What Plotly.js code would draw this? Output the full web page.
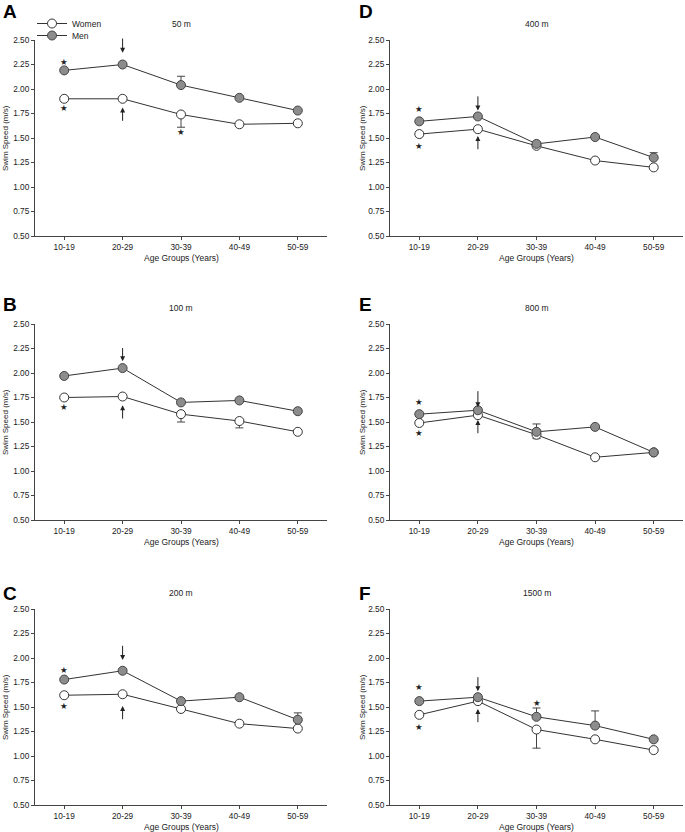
<!DOCTYPE html>
<html>
<head>
<meta charset="utf-8">
<script src="https://cdn.plot.ly/plotly-3.0.1.min.js"></script>
<style>
  html, body { margin: 0; padding: 0; background: #fff; }
  #chart { width: 685px; height: 832px; }
</style>
</head>
<body>
<div id="chart"></div>
<script>
// age groups on the x axis of every panel
var ageGroups = ['10-19', '20-29', '30-39', '40-49', '50-59'];
var events = ['50 m', '100 m', '200 m', '400 m', '800 m', '1500 m'];
var panelLetters = ['A', 'B', 'C', 'D', 'E', 'F'];

// mean swim speed (m/s)
var women50 = [1.90, 1.90, 1.74, 1.64, 1.65];
var men50 = [2.19, 2.25, 2.04, 1.91, 1.78];
var women100 = [1.75, 1.76, 1.58, 1.51, 1.40];
var men100 = [1.97, 2.05, 1.70, 1.72, 1.61];
var women200 = [1.62, 1.63, 1.48, 1.33, 1.28];
var men200 = [1.78, 1.87, 1.56, 1.60, 1.37];
var women400 = [1.54, 1.59, 1.42, 1.27, 1.20];
var men400 = [1.67, 1.72, 1.44, 1.51, 1.30];
var women800 = [1.49, 1.57, 1.37, 1.14, 1.19];
var men800 = [1.58, 1.62, 1.40, 1.45, 1.19];
var women1500 = [1.42, 1.56, 1.27, 1.17, 1.06];
var men1500 = [1.56, 1.60, 1.40, 1.31, 1.17];

// one-sided error bars (women down, men up); null = none drawn
var women50Err = [null, null, 0.13, null, null];
var men50Err = [null, null, 0.09, null, null];
var women100Err = [null, null, 0.08, 0.07, null];
var men100Err = [null, null, null, null, null];
var women200Err = [null, null, null, null, null];
var men200Err = [null, null, null, null, 0.07];
var women400Err = [null, null, null, null, null];
var men400Err = [null, null, null, null, 0.05];
var women800Err = [null, null, 0.04, null, null];
var men800Err = [null, null, 0.08, null, null];
var women1500Err = [null, null, 0.19, null, null];
var men1500Err = [null, null, 0.09, 0.15, null];

// significance stars: panel index, age group index, y position
var starPanel = [0, 0, 0, 1, 2, 2, 3, 3, 4, 4, 5, 5, 5];
var starGroup = [0, 0, 2, 0, 0, 0, 0, 0, 0, 0, 0, 0, 2];
var starY = [2.28, 1.81, 1.56, 1.65, 1.88, 1.51, 1.80, 1.42, 1.70, 1.39, 1.70, 1.30, 1.54];

// arrows at the fastest age group (20-29), one per panel
var arrowGroup = 1;
var downArrowTail = [2.53, 2.27, 2.14, 1.94, 1.83, 1.82];
var downArrowHead = [2.37, 2.12, 1.98, 1.78, 1.65, 1.66];
var upArrowTail = [1.66, 1.52, 1.36, 1.37, 1.37, 1.33];
var upArrowHead = [1.81, 1.67, 1.51, 1.52, 1.52, 1.48];

var womenSeries = [women50, women100, women200, women400, women800, women1500];
var menSeries = [men50, men100, men200, men400, men800, men1500];
var womenErr = [women50Err, women100Err, women200Err, women400Err, women800Err, women1500Err];
var menErr = [men50Err, men100Err, men200Err, men400Err, men800Err, men1500Err];

function zerosWhere(arr) {
  return arr.map(function(v) { return v === null ? null : 0; });
}

var W = 685, H = 832;
var fontFam = 'Liberation Sans, Arial, sans-serif';
var textCol = '#222';
var axCol = '#444';

// panel domains in pixels: A,B,C left column, D,E,F right column
var colX = [[35, 327], [390, 683]];
var rowY = [[40, 236], [324, 520], [609, 805]];
var letterY = [11.5, 304, 593];
var letterX = [2, 358];
var titleY = [24, 308, 593];
var xTitleY = [258, 542, 827];
var yTitleX = [5, 362];

var traces = [];
var layout = {
  width: W,
  height: H,
  margin: {l: 0, r: 0, t: 0, b: 0},
  paper_bgcolor: 'white',
  plot_bgcolor: 'white',
  font: {family: fontFam, size: 8, color: textCol},
  showlegend: true,
  legend: {
    x: 32 / W, xanchor: 'left', y: 1 - 9 / H, yanchor: 'top',
    font: {size: 8.5, color: textCol}, bgcolor: 'rgba(0,0,0,0)', borderwidth: 0
  },
  legend2: {
    x: 32 / W, xanchor: 'left', y: 1 - 21 / H, yanchor: 'top',
    font: {size: 8.5, color: textCol}, bgcolor: 'rgba(0,0,0,0)', borderwidth: 0
  },
  annotations: []
};

for (var p = 0; p < 6; p++) {
  var col = p < 3 ? 0 : 1;
  var row = p % 3;
  var suffix = p === 0 ? '' : String(p + 1);
  var xName = 'x' + suffix, yName = 'y' + suffix;

  layout['xaxis' + suffix] = {
    domain: [colX[col][0] / W, colX[col][1] / W],
    anchor: yName,
    type: 'category',
    range: [-0.5, 4.5],
    showgrid: false, zeroline: false,
    showline: true, linecolor: axCol, linewidth: 1,
    ticks: 'outside', ticklen: 3, tickcolor: axCol,
    tickfont: {size: 8.3, color: textCol},
    fixedrange: true
  };
  layout['yaxis' + suffix] = {
    domain: [1 - rowY[row][1] / H, 1 - rowY[row][0] / H],
    anchor: xName,
    range: [0.5, 2.5],
    tick0: 0.5, dtick: 0.25, tickformat: '.2f',
    showgrid: false, zeroline: false,
    showline: true, linecolor: axCol, linewidth: 1,
    ticks: 'outside', ticklen: 3, tickcolor: axCol,
    tickfont: {size: 8.3, color: textCol},
    fixedrange: true
  };

  traces.push({
    x: ageGroups, y: womenSeries[p],
    xaxis: xName, yaxis: yName,
    type: 'scatter', mode: 'lines+markers',
    name: 'Women', legend: 'legend', showlegend: p === 0,
    line: {color: '#333', width: 1},
    marker: {size: 9, color: 'white', line: {color: '#333', width: 1}},
    error_y: {type: 'data', symmetric: false, array: zerosWhere(womenErr[p]),
              arrayminus: womenErr[p], color: '#444', thickness: 1, width: 4}
  });
  traces.push({
    x: ageGroups, y: menSeries[p],
    xaxis: xName, yaxis: yName,
    type: 'scatter', mode: 'lines+markers',
    name: 'Men', legend: 'legend2', showlegend: p === 0,
    line: {color: '#333', width: 1},
    marker: {size: 9, color: '#8c8c8c', line: {color: '#444', width: 1}},
    error_y: {type: 'data', symmetric: false, array: menErr[p],
              arrayminus: zerosWhere(menErr[p]), color: '#444', thickness: 1, width: 4}
  });

  // panel letter
  layout.annotations.push({
    text: '<b>' + panelLetters[p] + '</b>', xref: 'paper', yref: 'paper',
    x: letterX[col] / W, y: 1 - letterY[row] / H, xanchor: 'left', yanchor: 'middle',
    showarrow: false, borderpad: 0, font: {size: 19, color: '#000'}
  });
  // event title
  layout.annotations.push({
    text: events[p], xref: xName + ' domain', yref: 'paper',
    x: 0.5, y: 1 - titleY[row] / H, xanchor: 'center', yanchor: 'middle',
    showarrow: false, font: {size: 8.5, color: textCol}
  });
  // x axis title
  layout.annotations.push({
    text: 'Age Groups (Years)', xref: xName + ' domain', yref: 'paper',
    x: 0.5, y: 1 - xTitleY[row] / H, xanchor: 'center', yanchor: 'middle',
    showarrow: false, font: {size: 8.5, color: textCol}
  });
  // y axis title
  layout.annotations.push({
    text: 'Swim Speed (m/s)', xref: 'paper', yref: yName + ' domain',
    x: yTitleX[col] / W, y: 0.5, xanchor: 'center', yanchor: 'middle', textangle: -90,
    showarrow: false, font: {size: 8, color: textCol}
  });
  // arrows at 20-29
  layout.annotations.push({
    text: '', xref: xName, yref: yName, axref: xName, ayref: yName,
    x: arrowGroup, y: downArrowHead[p], ax: arrowGroup, ay: downArrowTail[p],
    showarrow: true, arrowhead: 2, arrowsize: 1, arrowwidth: 1, arrowcolor: '#222'
  });
  layout.annotations.push({
    text: '', xref: xName, yref: yName, axref: xName, ayref: yName,
    x: arrowGroup, y: upArrowHead[p], ax: arrowGroup, ay: upArrowTail[p],
    showarrow: true, arrowhead: 2, arrowsize: 1, arrowwidth: 1, arrowcolor: '#222'
  });
}

for (var s = 0; s < starY.length; s++) {
  var sp = starPanel[s];
  var suf = sp === 0 ? '' : String(sp + 1);
  layout.annotations.push({
    text: '\u2605', xref: 'x' + suf, yref: 'y' + suf,
    x: starGroup[s], y: starY[s], xanchor: 'center', yanchor: 'middle',
    showarrow: false, font: {size: 8.5, color: '#222', family: 'DejaVu Sans'}
  });
}

Plotly.newPlot('chart', traces, layout, {displayModeBar: false, staticPlot: true});
</script>
</body>
</html>
